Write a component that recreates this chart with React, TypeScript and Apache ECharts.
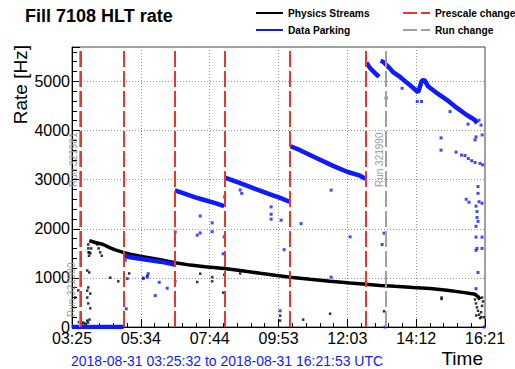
import React, { useEffect, useRef } from "react";
import * as echarts from "echarts";

// ---- data (time in minutes since fill start 03:25:32, rate in Hz) ----
const TITLE = "Fill 7108 HLT rate";
const RANGE_TEXT = "2018-08-31 03:25:32 to 2018-08-31 16:21:53 UTC";
const START_SEC = 3 * 3600 + 25 * 60 + 32;
const DURATION_SEC = 46581;
const Y_MAX = 5700;
const Y_INTERVAL = 1000;

const prescaleChangeMin = [15.6, 96.9, 192.7, 286.6, 410.1, 552.8];
const runChangeMin = [14.8, 15.6, 589.4];
const runLabels = ["Run 321980", "Run 321981", "Run 321990"];

const physicsTrail: [number, number][] = [
  [32.5, 1760], [43.8, 1720], [58.8, 1680], [71.9, 1610], [81.3, 1570], [96.4, 1520],
  [109.5, 1480], [128.3, 1440], [147.1, 1405], [165.9, 1370], [194.0, 1310], [222.2, 1260],
  [250.4, 1225], [286.1, 1190], [316.1, 1150], [353.7, 1095], [381.8, 1055], [410.0, 1015],
  [447.6, 970], [485.2, 930], [522.8, 895], [552.8, 870], [579.1, 847], [607.3, 828],
  [641.1, 806], [673.0, 786], [705.0, 750], [735.0, 705], [757.6, 665], [763.2, 620], [767.0, 560],
];

const physicsScatter: [number, number][] = [
  [6.2, 600], [11.8, 745], [15.6, 540], [15.6, 130], [21.2, 90], [28.7, 130],
  [13.0, 100], [18.0, 60], [24.0, 70], [30.0, 90], [33.0, 150],
  [28.7, 1150], [32.5, 1110], [30.6, 805], [28.7, 740], [34.4, 680], [28.7, 600],
  [30.6, 480], [34.4, 380], [32.5, 1520], [34.4, 1500], [36.0, 1600], [30.6, 1680],
  [30.6, 1600], [31.0, 1520], [32.0, 1450], [47.0, 1680], [50.0, 1600], [53.0, 1520], [56.0, 1450],
  [71.9, 1005], [87.0, 930], [107.6, 1090], [133.9, 1000], [141.4, 1040], [194.0, 930],
  [235.4, 915], [241.0, 1085], [263.5, 1015], [263.5, 930], [284.2, 700], [286.1, 1065], [316.1, 1090],
  [391.2, 130], [391.2, 230], [434.5, 150], [485.2, 270], [586.6, 320],
  [694.7, 600], [694.7, 570],
  [757.6, 560], [759.4, 480], [761.3, 400], [763.2, 330], [765.1, 250], [767.0, 180],
  [770.8, 430], [772.6, 520], [768.9, 300], [774.5, 200], [770.8, 600], [760.0, 235], [769.5, 200],
];

const parkingSegments: [number, number][][] = [
  [[0, 0], [96.9, 0]],
  [[97.5, 1450], [109.5, 1420], [128.3, 1390], [147.1, 1360], [165.9, 1330], [184.6, 1290], [192.5, 1270]],
  [[193.5, 2780], [212.8, 2710], [231.6, 2640], [250.4, 2580], [269.2, 2520], [286.0, 2460]],
  [[287.5, 3040], [316.1, 2930], [344.3, 2810], [372.5, 2700], [391.2, 2630], [409.1, 2550]],
  [[410.8, 3680], [428.8, 3600], [453.2, 3470], [490.8, 3280], [517.1, 3160], [541.5, 3080], [551.8, 3020]],
  [[553.5, 5380], [560.3, 5270], [569.7, 5170], [577.2, 5090]],
  [[580.0, 5420], [584.8, 5400], [590.4, 5340], [597.9, 5260], [603.5, 5190], [616.7, 5090],
   [629.8, 4970], [641.1, 4870], [650.5, 4780], [654.3, 4900], [657.0, 5000], [659.9, 5030],
   [663.7, 5010], [669.3, 4900], [686.2, 4760], [705.0, 4620], [723.7, 4460], [738.8, 4340],
   [751.9, 4250], [757.6, 4210], [761.3, 4150]],
];

const parkingScatter: [number, number][] = [
  [100.1, 1360], [103.9, 985], [143.3, 1085], [141.4, 1015], [133.9, 985], [164.0, 910],
  [179.0, 790], [156.5, 640], [102.0, 370], [194.0, 1935], [235.4, 1870], [241.0, 1915],
  [241.0, 2260], [263.5, 2120], [263.5, 1940], [286.1, 1835], [284.2, 1490], [287.0, 2650],
  [316.1, 2790], [319.0, 2720], [374.3, 2445], [374.3, 2295], [374.3, 2195], [393.1, 2175],
  [398.8, 1575], [430.7, 2105], [487.1, 2785], [487.1, 1015], [522.8, 1835], [391.2, 330],
  [586.6, 1910], [590.4, 4660], [582.9, 1680], [620.5, 4860], [649.0, 4590], [657.0, 4590],
  [710.6, 4385], [744.4, 4130], [765.1, 4210], [768.9, 4110], [771.0, 3910], [759.4, 3870],
  [757.6, 3810], [693.7, 3850], [693.7, 3600], [721.9, 3560], [732.0, 3500], [738.8, 3490],
  [745.0, 3430], [751.3, 3385], [757.6, 3350], [767.0, 3330], [772.0, 3300],
  [763.2, 2860], [763.2, 2720], [741.0, 2600], [746.3, 2540], [765.1, 2550], [770.8, 2520],
  [759.4, 2460], [761.3, 2350], [761.3, 2230], [763.2, 2150], [759.4, 2050], [759.4, 1830],
  [770.8, 1830], [761.3, 1600], [759.4, 1560], [770.8, 1600], [763.2, 1110], [759.4, 780],
  [588.5, 0], [774.5, 0],
];

const FONT = '"Liberation Sans", Arial, Helvetica, sans-serif';
const RED = "#e5392f";
const GRAY = "#a0a0a0";
const BLUE = "#0f1bff";
const SOLID_ICON = "path://M0,0h27v2h-27z";
const DASH_ICON = "path://M0,0h14v2h-14z M18,0h9v2h-9z";

function fmtTime(v: number): string {
  const tot = START_SEC + v;
  const h = Math.floor(tot / 3600) % 24;
  const m = Math.floor((tot % 3600) / 60);
  return String(h).padStart(2, "0") + ":" + String(m).padStart(2, "0");
}

const toSec = (arr: [number, number][]) => arr.map(([m, v]) => [m * 60, v]);

export default function App() {
  const ref = useRef<HTMLDivElement>(null);
  useEffect(() => {
    if (!ref.current) return;
    const chart = echarts.init(ref.current, null, { renderer: "svg" });
    const series: any[] = [];
    series.push({
      name: "Run change", type: "line", data: [], symbol: "none", z: 1,
      color: GRAY, lineStyle: { color: GRAY, width: 2 },
      markLine: {
        silent: true, symbol: "none", label: { show: false }, animation: false,
        lineStyle: { color: GRAY, width: 2, type: [16, 4] },
        data: runChangeMin.map((m) => ({ xAxis: m * 60 })),
      },
    });
    series.push({
      name: "Prescale change", type: "line", data: [], symbol: "none", z: 1,
      color: RED, lineStyle: { color: RED, width: 2 },
      markLine: {
        silent: true, symbol: "none", label: { show: false }, animation: false,
        lineStyle: { color: RED, width: 2, type: [16, 4] },
        data: prescaleChangeMin.map((m) => ({ xAxis: m * 60 })),
      },
    });
    series.push({
      name: "Physics Streams", type: "line", data: toSec(physicsTrail), symbol: "none",
      color: "#000", lineStyle: { color: "#000", width: 3.5 }, z: 2,
    });
    series.push({
      name: "physics-outliers", type: "scatter", data: toSec(physicsScatter), symbol: "rect",
      symbolSize: 2.5, itemStyle: { color: "#000" }, z: 2,
    });
    parkingSegments.forEach((seg) => {
      series.push({
        name: "Data Parking", type: "line", data: toSec(seg), symbol: "none",
        color: BLUE, lineStyle: { color: BLUE, width: 4.5 }, z: 3,
      });
    });
    series.push({
      name: "parking-outliers", type: "scatter", data: toSec(parkingScatter), symbol: "rect",
      symbolSize: 3, itemStyle: { color: BLUE }, z: 3,
    });

    const legendText = { fontFamily: FONT, fontWeight: "bold", fontSize: 10.2, color: "#000", lineHeight: 12 };
    const legendBase = {
      top: 7, orient: "vertical", itemWidth: 27, itemHeight: 2, itemGap: 5, padding: 0,
      textStyle: legendText, selectedMode: false,
    };
    const option: any = {
      animation: false,
      grid: { left: 72, top: 47, width: 413, height: 280, show: true, borderColor: "#444", borderWidth: 1 },
      legend: [
        {
          ...legendBase, left: 256,
          data: [
            { name: "Physics Streams", icon: SOLID_ICON },
            { name: "Data Parking", icon: SOLID_ICON },
          ],
        },
        {
          ...legendBase, left: 403,
          data: [
            { name: "Prescale change", icon: DASH_ICON },
            { name: "Run change", icon: DASH_ICON },
          ],
        },
      ],
      xAxis: {
        type: "value", min: 0, max: DURATION_SEC, interval: DURATION_SEC / 6,
        axisLine: { lineStyle: { color: "#000", width: 1 } },
        axisTick: { inside: true, length: 8, lineStyle: { color: "#000" } },
        minorTick: { show: true, splitNumber: 5, length: 4, lineStyle: { color: "#000" } },
        splitLine: { show: true, lineStyle: { color: "#999", type: [1, 2], width: 1 } },
        axisLabel: { formatter: fmtTime, fontFamily: FONT, fontSize: 16, color: "#000", margin: 3, showMaxLabel: true, showMinLabel: true },
      },
      yAxis: {
        type: "value", min: 0, max: Y_MAX, interval: Y_INTERVAL,
        axisLine: { show: true, lineStyle: { color: "#000", width: 1 } },
        axisTick: { inside: true, length: 8, lineStyle: { color: "#000" } },
        minorTick: { show: true, splitNumber: 5, length: 5, lineStyle: { color: "#000" } },
        splitLine: { show: true, lineStyle: { color: "#999", type: [1, 2], width: 1 } },
        axisLabel: {
          fontFamily: FONT, fontSize: 16, color: "#000", margin: 2, showMaxLabel: false,
          formatter: (v: number) => String(v),
        },
      },
      series,
    };
    chart.setOption(option);

    const yMid = chart.convertToPixel({ yAxisIndex: 0 }, Y_MAX / 2) as number;
    const yLow = chart.convertToPixel({ yAxisIndex: 0 }, 0) as number;
    const runTexts = runChangeMin.map((m, i) => {
      const x = chart.convertToPixel({ xAxisIndex: 0 }, m * 60) as number;
      return {
        type: "text", x: x - (i === 0 ? 3 : 1.5), y: i === 0 ? yLow - 10 : yMid, rotation: Math.PI / 2, z: 10,
        style: { text: runLabels[i], fill: "#9a9a9a", font: `10px ${FONT}`, align: "left", verticalAlign: "bottom" },
      };
    });
    chart.setOption({
      graphic: [
        { type: "text", left: 25, top: 7, style: { text: TITLE, fill: "#000", font: `bold 18px ${FONT}` } },
        {
          type: "text", x: 20, y: 45, rotation: Math.PI / 2,
          style: { text: "Rate [Hz]", fill: "#000", font: `19px ${FONT}`, align: "right", verticalAlign: "middle" },
        },
        { type: "text", x: 483, y: 358, style: { text: "Time", fill: "#000", font: `19px ${FONT}`, align: "right", verticalAlign: "middle" } },
        { type: "text", x: 71, y: 361, style: { text: RANGE_TEXT, fill: BLUE, font: `14px ${FONT}`, align: "left", verticalAlign: "middle" } },
        ...runTexts,
      ],
    });
    return () => chart.dispose();
  }, []);
  return <div ref={ref} style={{ position: "absolute", left: 0, top: 0, width: 515, height: 369 }} />;
}
